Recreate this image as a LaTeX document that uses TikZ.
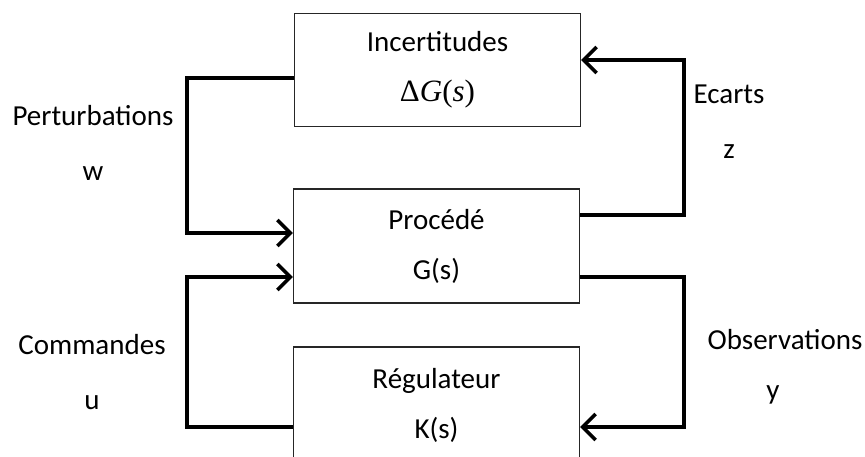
\documentclass[tikz,border=0pt]{standalone}
\usepackage{fontspec}
\setmainfont{Carlito}
\newfontfamily\mathlike{Liberation Serif}
\usetikzlibrary{arrows.meta}
\begin{document}
\begin{tikzpicture}[x=1pt,y=-1pt,
  box/.style={draw=black!85,line width=1.2pt,minimum width=286pt,anchor=center,align=center,inner sep=0pt,font=\fontsize{29}{50}\selectfont},
  arr/.style={line width=3.6pt,-{Straight Barb[length=13pt,width=26pt]}},
  lab/.style={align=center,font=\fontsize{29}{55}\selectfont}]
\path[use as bounding box] (0,0) rectangle (865,457);
\clip (0,0) rectangle (865,457);
\node[box,minimum height=113pt] (inc) at (437.5,70) {Incertitudes\\ {\mathlike\fontsize{31}{50}\selectfont Δ\textit{G}(\textit{s})}};
\node[box,minimum height=114pt] (proc) at (436.5,246) {Procédé\\ G(s)};
\node[box,minimum height=116pt] (reg) at (436.5,405) {Régulateur\\ K(s)};
% connector coordinates
\coordinate (pa) at (187,78);
\coordinate (pb) at (187,233);
\coordinate (ca) at (187,427);
\coordinate (cb) at (187,277);
\coordinate (ea) at (684,215);
\coordinate (eb) at (684,60);
\coordinate (oa) at (684,277);
\coordinate (ob) at (684,427);
\draw[arr] (inc.west |- pa) -- (pa) -- (pb) -- (proc.west |- pb);
\draw[arr] (reg.west |- ca) -- (ca) -- (cb) -- (proc.west |- cb);
\draw[arr] (proc.east |- ea) -- (ea) -- (eb) -- (inc.east |- eb);
\draw[arr] (proc.east |- oa) -- (oa) -- (ob) -- (reg.east |- ob);
\node[lab] (lp) at (93,143) {Perturbations\\ w};
\node[lab] (le) at (729,122) {Ecarts\\ z};
\node[lab] (lc) at (92,372) {Commandes\\ u};
\node[lab] (lo) at (785,340) {Observations};
\node[lab] (ly) at (773,395) {y};
\end{tikzpicture}
\end{document}
